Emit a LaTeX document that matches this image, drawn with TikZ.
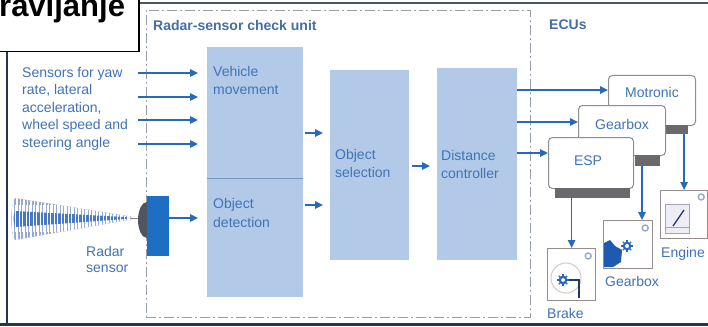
\documentclass[tikz,border=0pt]{standalone}
\usepackage{fontspec}
\setmainfont{Liberation Sans}
\usetikzlibrary{arrows.meta,calc}

\definecolor{arrblue}{RGB}{40,105,185}
\definecolor{txtblue}{RGB}{65,115,180}
\definecolor{hdblue}{RGB}{70,110,165}
\definecolor{blockfill}{RGB}{178,202,232}
\definecolor{divline}{RGB}{120,150,195}
\definecolor{dashgray}{RGB}{150,158,168}
\definecolor{framenavy}{RGB}{35,55,85}
\definecolor{framegray}{RGB}{75,85,100}
\definecolor{ecuborder}{RGB}{140,140,145}
\definecolor{ecubar}{RGB}{105,105,110}
\definecolor{sensblue}{RGB}{30,110,195}
\definecolor{headgray}{RGB}{80,85,95}
\definecolor{iconborder}{RGB}{150,140,140}
\definecolor{iconring}{RGB}{150,170,205}
\definecolor{conelight}{RGB}{150,170,205}
\definecolor{coneband}{RGB}{70,120,195}
\definecolor{iconnavy}{RGB}{35,55,110}
\definecolor{discgray}{RGB}{215,200,200}
\definecolor{gearblob}{RGB}{30,90,175}
\definecolor{gaugeline}{RGB}{170,160,190}
\definecolor{gaugefill}{RGB}{238,236,244}

\begin{document}
\begin{tikzpicture}[x=1pt,y=-1pt,
  arr/.style={draw=arrblue, line width=1.6pt, -{Triangle[length=8pt,width=7.5pt]}},
  lbl/.style={font=\fontsize{14}{18}\selectfont, text=txtblue, inner sep=0pt, anchor=base west, align=left},
  hdr/.style={font=\fontsize{14}{17}\selectfont\bfseries, text=hdblue, inner sep=0pt, anchor=base west},
  blockbox/.style={fill=blockfill, draw=none, anchor=north west, inner sep=0pt},
  ecubox/.style={draw=ecuborder, fill=white, line width=1pt, rounded corners=4pt, anchor=north west, inner sep=0pt},
  barbox/.style={fill=ecubar, draw=none, anchor=north west, inner sep=0pt},
  iconbox/.style={draw=iconborder, fill=white, line width=1.2pt, anchor=north west, inner sep=0pt},
  ring/.style={draw=iconring, line width=1.4pt}
]
\useasboundingbox (0,0) rectangle (708,326);
\clip (0,0) rectangle (708,326);
\fill[white] (0,0) rectangle (708,326);

% outer frame
\draw[framegray, line width=2pt] (138,3) -- (708,3);
\draw[framenavy, line width=2pt] (7,50) -- (7,326);
\draw[framenavy, line width=3pt] (0,324) -- (708,324);

% title box
\node[draw=black, fill=white, line width=1.5pt, anchor=north west,
      minimum width=140pt, minimum height=53pt, inner sep=0pt] (tbox) at (-2,-2) {};
\node[font=\fontsize{31}{31}\selectfont\bfseries, anchor=base west, inner sep=0pt] (title) at (-1,17) {ravljanje};

% check unit frame
\node[draw=dashgray, dash pattern=on 10pt off 3pt on 2pt off 3pt, line width=0.9pt,
      anchor=north west, minimum width=384pt, minimum height=307pt, inner sep=0pt] (cu) at (146,10) {};
\node[hdr] (cuhdr) at (153,31) {Radar-sensor check unit};
\node[hdr] (ecuhdr) at (549,30) {ECUs};

% processing blocks (multi-line labels are placed by their last baseline)
\node[blockbox, minimum width=96pt, minimum height=250pt] (vm) at (207,47) {};
\node[blockbox, minimum width=79pt, minimum height=190pt] (os) at (330,70) {};
\node[blockbox, minimum width=80pt, minimum height=192pt] (dc) at (437,68) {};
\draw[divline, line width=1pt] (vm.west |- 0,178) -- (vm.east |- 0,178);

\node[lbl] (vmtxt) at (213,95) {Vehicle\\movement};
\node[lbl, font=\fontsize{14}{19}\selectfont] (odtxt) at (213,227) {Object\\detection};
\node[lbl] (ostxt) at (335,177) {Object\\selection};
\node[lbl] (dctxt) at (441,178) {Distance\\controller};

% sensor inputs
\node[lbl, font=\fontsize{14}{17.5}\selectfont] (senstxt) at (22,147)
  {Sensors for yaw\\rate, lateral\\acceleration,\\wheel speed and\\steering angle};
\coordinate (s1) at (138,73);
\coordinate (s2) at (138,97);
\coordinate (s3) at (138,120);
\coordinate (s4) at (138,144);
\foreach \s in {s1,s2,s3,s4}
  \draw[arr, shorten >=9pt] (\s) -- (\s -| vm.west);

% radar beam
\begin{scope}
  \clip (15,198) -- (131,216.5) -- (131,219.5) -- (15,240)
        .. controls (10,232) and (10,206) .. (15,198) -- cycle;
  \fill[conelight] (0,190) rectangle (140,250);
  \foreach \x in {10,13.5,...,132}
    \draw[white, line width=1.1pt] (\x,190) -- (\x,250);
  \fill[coneband] (15,211) -- (128,217.2) -- (128,218.8) -- (15,227)
        .. controls (13,222) and (13,216) .. (15,211) -- cycle;
  \foreach \x in {11.75,15.25,...,132}
    \draw[white, line width=0.5pt] (\x,205) -- (\x,232);
\end{scope}
\draw[gray, line width=0.8pt] (131,218) -- (139,218);

% radar sensor
\fill[headgray] (147,220) ellipse [x radius=9, y radius=18];
\node[fill=sensblue, draw=none, anchor=north west, inner sep=0pt,
      minimum width=22pt, minimum height=60pt] (rs) at (147,196) {};
\node[lbl, font=\fontsize{14}{16}\selectfont] (rstxt) at (86,272) {Radar\\sensor};
\draw[arr, shorten >=9pt] (rs.east |- 0,218) -- (vm.west |- 0,218);

% flow between blocks
\draw[arr, shorten <=2pt, shorten >=7pt] (vm.east |- 0,133) -- (os.west |- 0,133);
\draw[arr, shorten <=2pt, shorten >=7pt] (vm.east |- 0,205) -- (os.west |- 0,205);
\draw[arr, shorten <=3pt, shorten >=7pt] (os.east |- 0,166) -- (dc.west |- 0,166);

% ECUs
\node[ecubox, minimum width=87pt, minimum height=50pt] (moto) at (608,75) {};
\node[barbox, minimum width=25pt, minimum height=9pt] (motobar) at (663,125) {};
\node[ecubox, minimum width=87pt, minimum height=50pt] (gb) at (578,105) {};
\node[barbox, minimum width=25pt, minimum height=11pt] (gbbar) at (635,155) {};
\node[ecubox, minimum width=85pt, minimum height=51pt] (esp) at (548,137) {};
\node[barbox, minimum width=75pt, minimum height=10pt] (espbar) at (555,188) {};
\node[lbl, anchor=base] (mototxt) at (652,98) {Motronic};
\node[lbl, anchor=base] (gbtxt) at (622,129) {Gearbox};
\node[lbl, anchor=base] (esptxt) at (588,165) {ESP};

\draw[arr] (dc.east |- 0,90) -- (moto.west |- 0,90);
\draw[arr] (dc.east |- 0,122) -- (gb.west |- 0,122);
\draw[arr] (dc.east |- 0,153) -- (esp.west |- 0,153);

% actuators
\node[iconbox, minimum width=48pt, minimum height=52pt] (brake) at (547,248) {};
\node[iconbox, minimum width=49pt, minimum height=48pt] (gbicon) at (603,220) {};
\node[iconbox, minimum width=47pt, minimum height=48pt] (engine) at (660,190) {};
\node[lbl] (braketxt) at (547,318) {Brake};
\node[lbl] (gbicontxt) at (605,286) {Gearbox};
\node[lbl] (enginetxt) at (661,257) {Engine};

\coordinate (gbx) at (642,0);
\draw[arr] (espbar.south -| brake.north) -- (brake.north);
\draw[arr] (gbbar.south -| gbx) -- (gbicon.north -| gbx);
\draw[arr] (motobar.south -| engine.north) -- (engine.north);

% brake symbol
\draw[ring] ($(brake.north east)+(-8,8)$) circle (3);
\draw[discgray, line width=1pt] (566,278) circle (15);
\draw[arrblue, line width=2.2pt] (563,280) circle (3.2);
\foreach \a in {0,45,...,315}
  \draw[arrblue, line width=1.3pt] ($(563,280)+(\a:3.5)$) -- ($(563,280)+(\a:6)$);
\draw[iconnavy, line width=1.8pt] (569,280) -- (579,280) -- (579,298);

% gearbox symbol
\draw[ring] ($(gbicon.north east)+(-8,8)$) circle (3);
\fill[gearblob] (604,243) -- (610,240) -- (615,246) -- (622,250)
  -- (621,262) -- (613,267) -- (604,267) -- cycle;
\draw[arrblue, line width=2pt] (627,246) circle (3.2);
\foreach \a in {0,45,...,315}
  \draw[arrblue, line width=1.3pt] ($(627,246)+(\a:3.4)$) -- ($(627,246)+(\a:6)$);

% engine symbol
\draw[ring] ($(engine.north east)+(-7,7)$) circle (3);
\draw[draw=gaugeline, fill=gaugefill, line width=0.9pt] (665,204) rectangle (689,233);
\draw[gaugeline, line width=0.8pt] (665,227) -- (689,227);
\draw[iconnavy, line width=1.3pt] (673,226) -- (684,210);
\end{tikzpicture}
\end{document}
